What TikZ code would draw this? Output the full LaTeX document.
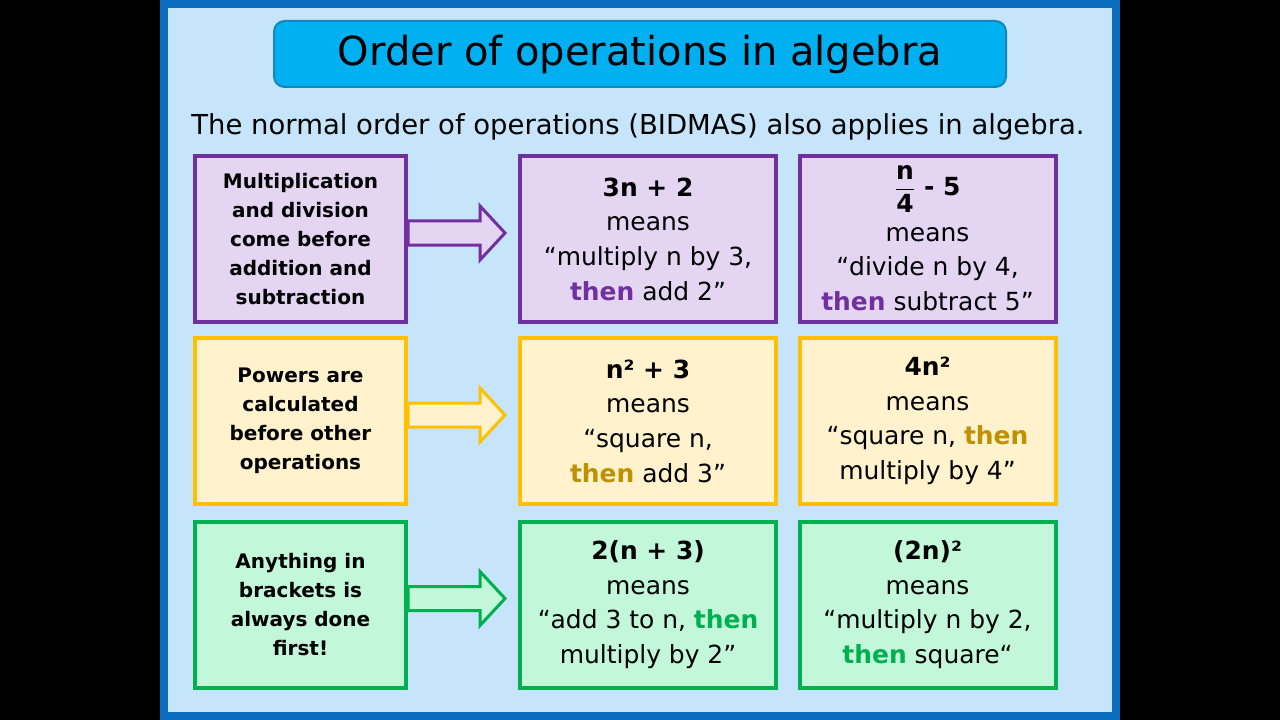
\documentclass[tikz,border=0pt]{standalone}
\usepackage{fontspec}
\setmainfont{DejaVu Sans}
\usetikzlibrary{calc}
\definecolor{panelblue}{HTML}{0A6DBE}
\definecolor{panelfill}{HTML}{C6E5FA}
\definecolor{titlefill}{HTML}{00B0F0}
\definecolor{titleedge}{HTML}{1287BF}
\definecolor{purpleB}{HTML}{7030A0}
\definecolor{purpleF}{HTML}{E4D5F3}
\definecolor{yellowB}{HTML}{FFC000}
\definecolor{yellowF}{HTML}{FFF2CC}
\definecolor{yellowT}{HTML}{BF9000}
\definecolor{greenB}{HTML}{00B050}
\definecolor{greenF}{HTML}{C2F7DA}
\newcommand\thenword[1]{\textbf{\textcolor{#1}{then}}}
\begin{document}
\begin{tikzpicture}[x=0.75pt,y=-0.75pt,
  titlebox/.style={draw=titleedge, fill=titlefill, line width=1.5pt, rounded corners=8pt,
    minimum width=549pt, minimum height=49.5pt, inner sep=0pt,
    font=\fontsize{30}{36}\selectfont},
  rulebox/.style={line width=3pt, minimum width=158.25pt, minimum height=124.5pt,
    inner sep=0pt, align=center, font=\fontsize{15}{21.75}\selectfont\bfseries},
  exfont/.style={font=\fontsize{18.7}{26}\selectfont},
  exbox/.style={exfont, line width=3pt, minimum width=192pt, minimum height=124.5pt,
    inner sep=0pt, align=center},
  purplebox/.style={draw=purpleB, fill=purpleF},
  yellowbox/.style={draw=yellowB, fill=yellowF},
  greenbox/.style={draw=greenB, fill=greenF},
  blockarrow/.style={line width=2.25pt, line join=miter}
]
\useasboundingbox (0,0) rectangle (1280,720);
\fill[black] (0,0) rectangle (1280,720);
\draw[draw=panelblue, fill=panelfill, line width=6pt] (164,4) rectangle (1116,716);

\node[titlebox] (title) at (640,54) {Order of operations in algebra};
\node[font=\fontsize{20.6}{24}\selectfont, inner sep=0pt] (sub) at (638,127)
  {The normal order of operations (BIDMAS) also applies in algebra.};

% row 1
\node[rulebox, purplebox] (L1) at (300.5,239)
  {Multiplication\\and division\\come before\\addition and\\subtraction};
\node[exbox, purplebox] (M1) at (648,239)
  {\textbf{3n + 2}\\means\\“multiply n by 3,\\\thenword{purpleB} add 2”};
\node[exbox, purplebox] (R1) at (927.5,239) {};
\node[exfont, inner sep=0pt] (R1f) at ($(R1.center)+(0,-50)$)
  {\textbf{$\displaystyle\frac{\mbox{\bfseries n}\rule[-4pt]{0pt}{1pt}}{\rule{0pt}{16pt}\mbox{\bfseries 4}}$ - 5}};
\node[exfont, inner sep=0pt, align=center] (R1t) at ($(R1.center)+(0,30)$)
  {means\\“divide n by 4,\\\thenword{purpleB} subtract 5”};

% row 2
\node[rulebox, yellowbox] (L2) at (300.5,421)
  {Powers are\\calculated\\before other\\operations};
\node[exbox, yellowbox] (M2) at (648,421)
  {\textbf{n² + 3}\\means\\“square n,\\\thenword{yellowT} add 3”};
\node[exbox, yellowbox] (R2) at (927.5,421)
  {\textbf{4n²}\\means\\“square n, \thenword{yellowT}\\multiply by 4”};

% row 3
\node[rulebox, greenbox] (L3) at (300.5,604.5)
  {Anything in\\brackets is\\always done\\first!};
\node[exbox, greenbox] (M3) at (648,604.5)
  {\textbf{2(n + 3)}\\means\\“add 3 to n, \thenword{greenB}\\multiply by 2”};
\node[exbox, greenbox] (R3) at (927.5,604.5)
  {\textbf{(2n)²}\\means\\“multiply n by 2,\\\thenword{greenB} square“};

% block arrows
\foreach \a/\b/\c/\f in {L1/M1/purpleB/purpleF, L2/M2/yellowB/yellowF, L3/M3/greenB/greenF}{
  \draw[blockarrow, draw=\c, fill=\f]
    ($(\a.east)+(0,-18)$) -- ++(72,0) -- ++(0,-15) -- ($(\b.west)+(-13,-6)$)
    -- ($(\a.east)+(72,21)$) -- ++(0,-15) -- ($(\a.east)+(0,6)$) -- cycle;
}
\end{tikzpicture}
\end{document}
